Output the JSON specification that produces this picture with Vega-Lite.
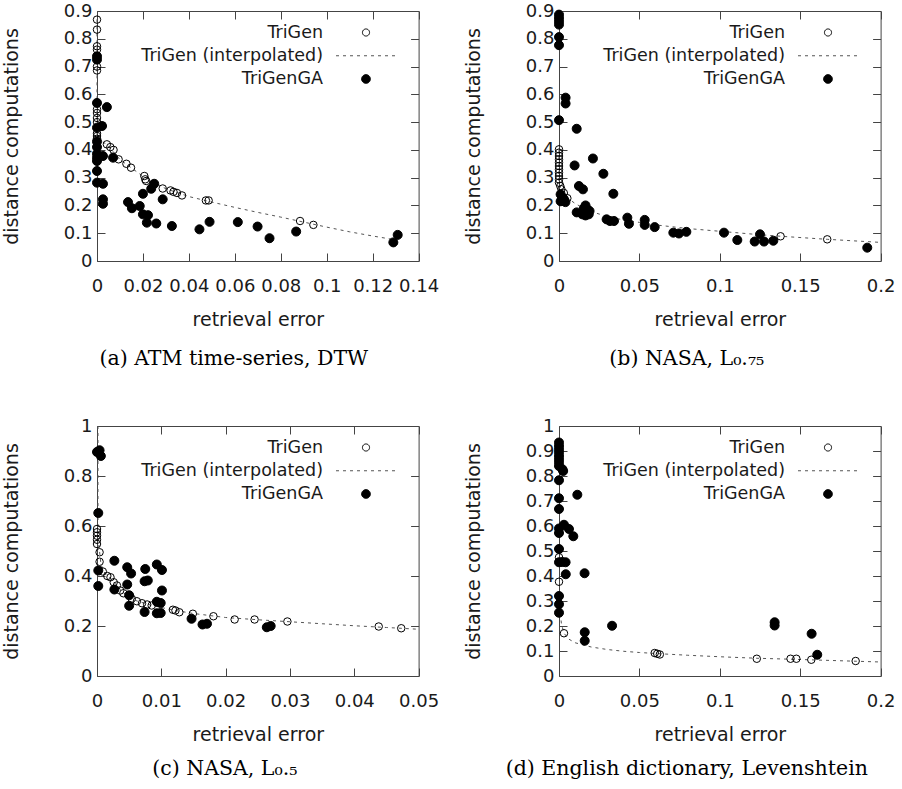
{
"$schema": "https://vega.github.io/schema/vega-lite/v6.json",
"padding": {"left": 1, "top": 1, "right": 5, "bottom": 5},
"background": "white",
"config": {
  "view": {"stroke": "#444", "strokeWidth": 1},
  "font": "DejaVu Sans",
  "axis": {"grid": false, "domain": false, "tickSize": -8, "tickColor": "#444", "tickWidth": 1, "labelFont": "DejaVu Sans", "labelFontSize": 18, "labelColor": "#1a1a1a", "titleFont": "DejaVu Sans", "titleFontSize": 19, "titleFontWeight": "normal", "titleColor": "#1a1a1a", "labelFlush": false, "labelOverlap": false},
  "axisBottom": {"labelPadding": 24, "titlePadding": 15},
  "axisLeft": {"labelPadding": 13, "titlePadding": 42},
  "legend": {"orient": "none", "legendX": 0, "legendY": 12.5, "title": null, "padding": 0, "labelFont": "DejaVu Sans", "labelFontSize": 17.5, "labelColor": "#1a1a1a", "labelAlign": "right", "labelOffset": -52, "labelLimit": 400, "symbolOffset": 260, "rowPadding": 5.25, "symbolSize": 272.25, "symbolStrokeWidth": 1, "symbolOpacity": 1},
  "title": {"font": "DejaVu Serif", "fontSize": 20.5, "fontWeight": "normal", "color": "#000", "orient": "bottom", "offset": 20, "frame": "group", "anchor": "middle"}
},
"resolve": {"scale": {"fill": "independent", "color": "independent", "size": "independent", "shape": "independent", "stroke": "independent", "strokeDash": "independent"}, "legend": {"fill": "independent", "shape": "independent", "stroke": "independent", "strokeDash": "independent"}},
"columns": 2,
"spacing": {"row": 165, "column": 140},
"bounds": "flush",
"datasets": {
  "a_pts": [
    {"series": "TriGenGA", "x": 0, "y": 0.737}, {"series": "TriGenGA", "x": 0, "y": 0.725}, {"series": "TriGenGA", "x": 0, "y": 0.569}, {"series": "TriGenGA", "x": 0.0043, "y": 0.554}, {"series": "TriGenGA", "x": 0.0022, "y": 0.486}, {"series": "TriGenGA", "x": 0, "y": 0.48}, {"series": "TriGenGA", "x": 0, "y": 0.43}, {"series": "TriGenGA", "x": 0, "y": 0.41}, {"series": "TriGenGA", "x": 0, "y": 0.386}, {"series": "TriGenGA", "x": 0, "y": 0.372}, {"series": "TriGenGA", "x": 0, "y": 0.36}, {"series": "TriGenGA", "x": 0.0026, "y": 0.378}, {"series": "TriGenGA", "x": 0.007, "y": 0.372}, {"series": "TriGenGA", "x": 0, "y": 0.324}, {"series": "TriGenGA", "x": 0, "y": 0.282}, {"series": "TriGenGA", "x": 0.0026, "y": 0.278}, {"series": "TriGenGA", "x": 0.0026, "y": 0.222}, {"series": "TriGenGA", "x": 0.0026, "y": 0.206}, {"series": "TriGenGA", "x": 0.0135, "y": 0.212}, {"series": "TriGenGA", "x": 0.0152, "y": 0.19}, {"series": "TriGenGA", "x": 0.0186, "y": 0.198}, {"series": "TriGenGA", "x": 0.02, "y": 0.242}, {"series": "TriGenGA", "x": 0.02, "y": 0.168}, {"series": "TriGenGA", "x": 0.0222, "y": 0.165}, {"series": "TriGenGA", "x": 0.0217, "y": 0.138}, {"series": "TriGenGA", "x": 0.0236, "y": 0.26}, {"series": "TriGenGA", "x": 0.0249, "y": 0.278}, {"series": "TriGenGA", "x": 0.0258, "y": 0.135}, {"series": "TriGenGA", "x": 0.0286, "y": 0.222}, {"series": "TriGenGA", "x": 0.0326, "y": 0.126}, {"series": "TriGenGA", "x": 0.0446, "y": 0.114}, {"series": "TriGenGA", "x": 0.049, "y": 0.141}, {"series": "TriGenGA", "x": 0.0613, "y": 0.14}, {"series": "TriGenGA", "x": 0.0699, "y": 0.124}, {"series": "TriGenGA", "x": 0.0751, "y": 0.082}, {"series": "TriGenGA", "x": 0.0867, "y": 0.106}, {"series": "TriGenGA", "x": 0.129, "y": 0.067}, {"series": "TriGenGA", "x": 0.1309, "y": 0.094},
    {"series": "TriGen", "x": 0, "y": 0.869}, {"series": "TriGen", "x": 0, "y": 0.833}, {"series": "TriGen", "x": 0, "y": 0.773}, {"series": "TriGen", "x": 0, "y": 0.761}, {"series": "TriGen", "x": 0, "y": 0.7}, {"series": "TriGen", "x": 0, "y": 0.686}, {"series": "TriGen", "x": 0, "y": 0.546}, {"series": "TriGen", "x": 0, "y": 0.533}, {"series": "TriGen", "x": 0, "y": 0.515}, {"series": "TriGen", "x": 0, "y": 0.5}, {"series": "TriGen", "x": 0, "y": 0.46}, {"series": "TriGen", "x": 0, "y": 0.45}, {"series": "TriGen", "x": 0, "y": 0.44}, {"series": "TriGen", "x": 0.0043, "y": 0.42}, {"series": "TriGen", "x": 0.0058, "y": 0.41}, {"series": "TriGen", "x": 0.0072, "y": 0.4}, {"series": "TriGen", "x": 0.0094, "y": 0.366}, {"series": "TriGen", "x": 0.0128, "y": 0.35}, {"series": "TriGen", "x": 0.0148, "y": 0.336}, {"series": "TriGen", "x": 0.0206, "y": 0.306}, {"series": "TriGen", "x": 0.021, "y": 0.294}, {"series": "TriGen", "x": 0.0214, "y": 0.288}, {"series": "TriGen", "x": 0.0286, "y": 0.261}, {"series": "TriGen", "x": 0.032, "y": 0.254}, {"series": "TriGen", "x": 0.0333, "y": 0.249}, {"series": "TriGen", "x": 0.0348, "y": 0.245}, {"series": "TriGen", "x": 0.037, "y": 0.236}, {"series": "TriGen", "x": 0.0474, "y": 0.218}, {"series": "TriGen", "x": 0.0486, "y": 0.218}, {"series": "TriGen", "x": 0.0884, "y": 0.144}, {"series": "TriGen", "x": 0.0942, "y": 0.13}
  ],
  "a_line": [
    {"x": 0, "y": 0.87}, {"x": 0, "y": 0.44}, {"x": 0.0043, "y": 0.42}, {"x": 0.01, "y": 0.365}, {"x": 0.015, "y": 0.335}, {"x": 0.02, "y": 0.305}, {"x": 0.03, "y": 0.26}, {"x": 0.04, "y": 0.232}, {"x": 0.05, "y": 0.212}, {"x": 0.06, "y": 0.193}, {"x": 0.07, "y": 0.175}, {"x": 0.08, "y": 0.158}, {"x": 0.09, "y": 0.14}, {"x": 0.1, "y": 0.122}, {"x": 0.11, "y": 0.105}, {"x": 0.12, "y": 0.09}, {"x": 0.13, "y": 0.076}
  ],
  "b_pts": [
    {"series": "TriGenGA", "x": 0, "y": 0.887}, {"series": "TriGenGA", "x": 0, "y": 0.875}, {"series": "TriGenGA", "x": 0, "y": 0.863}, {"series": "TriGenGA", "x": 0, "y": 0.851}, {"series": "TriGenGA", "x": 0, "y": 0.806}, {"series": "TriGenGA", "x": 0, "y": 0.777}, {"series": "TriGenGA", "x": 0.0041, "y": 0.588}, {"series": "TriGenGA", "x": 0.0041, "y": 0.567}, {"series": "TriGenGA", "x": 0, "y": 0.507}, {"series": "TriGenGA", "x": 0.011, "y": 0.476}, {"series": "TriGenGA", "x": 0.0097, "y": 0.344}, {"series": "TriGenGA", "x": 0.0211, "y": 0.369}, {"series": "TriGenGA", "x": 0.0124, "y": 0.27}, {"series": "TriGenGA", "x": 0.0149, "y": 0.258}, {"series": "TriGenGA", "x": 0.0276, "y": 0.314}, {"series": "TriGenGA", "x": 0.0338, "y": 0.242}, {"series": "TriGenGA", "x": 0.001, "y": 0.24}, {"series": "TriGenGA", "x": 0.0031, "y": 0.222}, {"series": "TriGenGA", "x": 0.002, "y": 0.23}, {"series": "TriGenGA", "x": 0.004, "y": 0.212}, {"series": "TriGenGA", "x": 0.001, "y": 0.215}, {"series": "TriGenGA", "x": 0.011, "y": 0.175}, {"series": "TriGenGA", "x": 0.0165, "y": 0.2}, {"series": "TriGenGA", "x": 0.0155, "y": 0.19}, {"series": "TriGenGA", "x": 0.0178, "y": 0.185}, {"series": "TriGenGA", "x": 0.0145, "y": 0.168}, {"series": "TriGenGA", "x": 0.0165, "y": 0.164}, {"series": "TriGenGA", "x": 0.0185, "y": 0.168}, {"series": "TriGenGA", "x": 0.019, "y": 0.18}, {"series": "TriGenGA", "x": 0.0296, "y": 0.15}, {"series": "TriGenGA", "x": 0.0317, "y": 0.144}, {"series": "TriGenGA", "x": 0.0342, "y": 0.144}, {"series": "TriGenGA", "x": 0.0425, "y": 0.156}, {"series": "TriGenGA", "x": 0.0435, "y": 0.134}, {"series": "TriGenGA", "x": 0.0533, "y": 0.148}, {"series": "TriGenGA", "x": 0.0533, "y": 0.13}, {"series": "TriGenGA", "x": 0.0595, "y": 0.122}, {"series": "TriGenGA", "x": 0.0711, "y": 0.102}, {"series": "TriGenGA", "x": 0.0746, "y": 0.099}, {"series": "TriGenGA", "x": 0.0792, "y": 0.105}, {"series": "TriGenGA", "x": 0.1026, "y": 0.102}, {"series": "TriGenGA", "x": 0.1109, "y": 0.0755}, {"series": "TriGenGA", "x": 0.1217, "y": 0.07}, {"series": "TriGenGA", "x": 0.125, "y": 0.096}, {"series": "TriGenGA", "x": 0.1275, "y": 0.07}, {"series": "TriGenGA", "x": 0.1333, "y": 0.073}, {"series": "TriGenGA", "x": 0.1917, "y": 0.048},
    {"series": "TriGen", "x": 0, "y": 0.402}, {"series": "TriGen", "x": 0, "y": 0.39}, {"series": "TriGen", "x": 0, "y": 0.378}, {"series": "TriGen", "x": 0, "y": 0.366}, {"series": "TriGen", "x": 0, "y": 0.354}, {"series": "TriGen", "x": 0, "y": 0.342}, {"series": "TriGen", "x": 0, "y": 0.33}, {"series": "TriGen", "x": 0, "y": 0.318}, {"series": "TriGen", "x": 0, "y": 0.306}, {"series": "TriGen", "x": 0, "y": 0.294}, {"series": "TriGen", "x": 0, "y": 0.282}, {"series": "TriGen", "x": 0.0008, "y": 0.27}, {"series": "TriGen", "x": 0.0015, "y": 0.258}, {"series": "TriGen", "x": 0.003, "y": 0.245}, {"series": "TriGen", "x": 0.0052, "y": 0.226}, {"series": "TriGen", "x": 0.1378, "y": 0.089}, {"series": "TriGen", "x": 0.1668, "y": 0.078}
  ],
  "b_line": [
    {"x": 0, "y": 0.4}, {"x": 0, "y": 0.28}, {"x": 0.001, "y": 0.262}, {"x": 0.003, "y": 0.242}, {"x": 0.006, "y": 0.224}, {"x": 0.01, "y": 0.207}, {"x": 0.015, "y": 0.191}, {"x": 0.02, "y": 0.178}, {"x": 0.03, "y": 0.16}, {"x": 0.04, "y": 0.148}, {"x": 0.05, "y": 0.139}, {"x": 0.06, "y": 0.13}, {"x": 0.08, "y": 0.117}, {"x": 0.1, "y": 0.107}, {"x": 0.12, "y": 0.097}, {"x": 0.138, "y": 0.089}, {"x": 0.167, "y": 0.078}, {"x": 0.2, "y": 0.067}
  ],
  "c_pts": [
    {"series": "TriGenGA", "x": 0, "y": 0.896}, {"series": "TriGenGA", "x": 0.0004, "y": 0.903}, {"series": "TriGenGA", "x": 0.0006, "y": 0.88}, {"series": "TriGenGA", "x": 0.0002, "y": 0.652}, {"series": "TriGenGA", "x": 0.0002, "y": 0.422}, {"series": "TriGenGA", "x": 0.0002, "y": 0.36}, {"series": "TriGenGA", "x": 0.0027, "y": 0.461}, {"series": "TriGenGA", "x": 0.0047, "y": 0.435}, {"series": "TriGenGA", "x": 0.0053, "y": 0.41}, {"series": "TriGenGA", "x": 0.0047, "y": 0.366}, {"series": "TriGenGA", "x": 0.0075, "y": 0.428}, {"series": "TriGenGA", "x": 0.0074, "y": 0.379}, {"series": "TriGenGA", "x": 0.0079, "y": 0.382}, {"series": "TriGenGA", "x": 0.0093, "y": 0.446}, {"series": "TriGenGA", "x": 0.0101, "y": 0.424}, {"series": "TriGenGA", "x": 0.0101, "y": 0.342}, {"series": "TriGenGA", "x": 0.0027, "y": 0.346}, {"series": "TriGenGA", "x": 0.0050, "y": 0.323}, {"series": "TriGenGA", "x": 0.0050, "y": 0.281}, {"series": "TriGenGA", "x": 0.0074, "y": 0.256}, {"series": "TriGenGA", "x": 0.0093, "y": 0.251}, {"series": "TriGenGA", "x": 0.0099, "y": 0.252}, {"series": "TriGenGA", "x": 0.0093, "y": 0.297}, {"series": "TriGenGA", "x": 0.0099, "y": 0.292}, {"series": "TriGenGA", "x": 0.0147, "y": 0.229}, {"series": "TriGenGA", "x": 0.0164, "y": 0.206}, {"series": "TriGenGA", "x": 0.0171, "y": 0.209}, {"series": "TriGenGA", "x": 0.0264, "y": 0.195}, {"series": "TriGenGA", "x": 0.027, "y": 0.2},
    {"series": "TriGen", "x": 0, "y": 0.588}, {"series": "TriGen", "x": 0, "y": 0.575}, {"series": "TriGen", "x": 0, "y": 0.561}, {"series": "TriGen", "x": 0, "y": 0.545}, {"series": "TriGen", "x": 0, "y": 0.528}, {"series": "TriGen", "x": 0.0004, "y": 0.495}, {"series": "TriGen", "x": 0.0004, "y": 0.457}, {"series": "TriGen", "x": 0.0009, "y": 0.418}, {"series": "TriGen", "x": 0.0016, "y": 0.4}, {"series": "TriGen", "x": 0.0021, "y": 0.395}, {"series": "TriGen", "x": 0.0026, "y": 0.375}, {"series": "TriGen", "x": 0.0031, "y": 0.362}, {"series": "TriGen", "x": 0.0036, "y": 0.342}, {"series": "TriGen", "x": 0.0041, "y": 0.331}, {"series": "TriGen", "x": 0.0054, "y": 0.309}, {"series": "TriGen", "x": 0.0062, "y": 0.299}, {"series": "TriGen", "x": 0.007, "y": 0.291}, {"series": "TriGen", "x": 0.0078, "y": 0.286}, {"series": "TriGen", "x": 0.0085, "y": 0.282}, {"series": "TriGen", "x": 0.0118, "y": 0.265}, {"series": "TriGen", "x": 0.0122, "y": 0.262}, {"series": "TriGen", "x": 0.0128, "y": 0.255}, {"series": "TriGen", "x": 0.0149, "y": 0.249}, {"series": "TriGen", "x": 0.0181, "y": 0.239}, {"series": "TriGen", "x": 0.0214, "y": 0.226}, {"series": "TriGen", "x": 0.0245, "y": 0.226}, {"series": "TriGen", "x": 0.0296, "y": 0.218}, {"series": "TriGen", "x": 0.0438, "y": 0.198}, {"series": "TriGen", "x": 0.0473, "y": 0.191}
  ],
  "c_line": [
    {"x": 0.00015, "y": 1.0}, {"x": 0.00015, "y": 0.6}, {"x": 0.0003, "y": 0.52}, {"x": 0.0006, "y": 0.45}, {"x": 0.001, "y": 0.418}, {"x": 0.002, "y": 0.393}, {"x": 0.003, "y": 0.365}, {"x": 0.004, "y": 0.335}, {"x": 0.006, "y": 0.302}, {"x": 0.008, "y": 0.286}, {"x": 0.01, "y": 0.274}, {"x": 0.012, "y": 0.263}, {"x": 0.015, "y": 0.25}, {"x": 0.02, "y": 0.234}, {"x": 0.025, "y": 0.225}, {"x": 0.03, "y": 0.217}, {"x": 0.035, "y": 0.209}, {"x": 0.04, "y": 0.201}, {"x": 0.045, "y": 0.194}, {"x": 0.05, "y": 0.187}
  ],
  "d_pts": [
    {"series": "TriGenGA", "x": 0, "y": 0.934}, {"series": "TriGenGA", "x": 0, "y": 0.92}, {"series": "TriGenGA", "x": 0, "y": 0.907}, {"series": "TriGenGA", "x": 0, "y": 0.894}, {"series": "TriGenGA", "x": 0, "y": 0.88}, {"series": "TriGenGA", "x": 0, "y": 0.867}, {"series": "TriGenGA", "x": 0, "y": 0.854}, {"series": "TriGenGA", "x": 0, "y": 0.84}, {"series": "TriGenGA", "x": 0.0021, "y": 0.827}, {"series": "TriGenGA", "x": 0.0026, "y": 0.82}, {"series": "TriGenGA", "x": 0, "y": 0.783}, {"series": "TriGenGA", "x": 0, "y": 0.711}, {"series": "TriGenGA", "x": 0, "y": 0.668}, {"series": "TriGenGA", "x": 0, "y": 0.59}, {"series": "TriGenGA", "x": 0, "y": 0.572}, {"series": "TriGenGA", "x": 0.0031, "y": 0.605}, {"series": "TriGenGA", "x": 0.0062, "y": 0.588}, {"series": "TriGenGA", "x": 0.0089, "y": 0.559}, {"series": "TriGenGA", "x": 0.0114, "y": 0.725}, {"series": "TriGenGA", "x": 0, "y": 0.508}, {"series": "TriGenGA", "x": 0, "y": 0.455}, {"series": "TriGenGA", "x": 0.002, "y": 0.456}, {"series": "TriGenGA", "x": 0.0041, "y": 0.455}, {"series": "TriGenGA", "x": 0.0042, "y": 0.407}, {"series": "TriGenGA", "x": 0.0159, "y": 0.411}, {"series": "TriGenGA", "x": 0, "y": 0.32}, {"series": "TriGenGA", "x": 0, "y": 0.287}, {"series": "TriGenGA", "x": 0, "y": 0.253}, {"series": "TriGenGA", "x": 0.016, "y": 0.175}, {"series": "TriGenGA", "x": 0.016, "y": 0.141}, {"series": "TriGenGA", "x": 0.033, "y": 0.201}, {"series": "TriGenGA", "x": 0.1341, "y": 0.215}, {"series": "TriGenGA", "x": 0.1341, "y": 0.202}, {"series": "TriGenGA", "x": 0.1571, "y": 0.169}, {"series": "TriGenGA", "x": 0.1606, "y": 0.085},
    {"series": "TriGen", "x": 0, "y": 0.475}, {"series": "TriGen", "x": 0, "y": 0.377}, {"series": "TriGen", "x": 0.0031, "y": 0.171}, {"series": "TriGen", "x": 0.0595, "y": 0.092}, {"series": "TriGen", "x": 0.0611, "y": 0.089}, {"series": "TriGen", "x": 0.0627, "y": 0.086}, {"series": "TriGen", "x": 0.123, "y": 0.069}, {"series": "TriGen", "x": 0.144, "y": 0.069}, {"series": "TriGen", "x": 0.1476, "y": 0.069}, {"series": "TriGen", "x": 0.1569, "y": 0.065}, {"series": "TriGen", "x": 0.1845, "y": 0.06}
  ],
  "d_line": [
    {"x": 0.0008, "y": 0.25}, {"x": 0.0015, "y": 0.21}, {"x": 0.003, "y": 0.172}, {"x": 0.006, "y": 0.148}, {"x": 0.01, "y": 0.133}, {"x": 0.02, "y": 0.116}, {"x": 0.03, "y": 0.106}, {"x": 0.04, "y": 0.099}, {"x": 0.05, "y": 0.094}, {"x": 0.06, "y": 0.09}, {"x": 0.08, "y": 0.083}, {"x": 0.1, "y": 0.077}, {"x": 0.123, "y": 0.071}, {"x": 0.145, "y": 0.067}, {"x": 0.16, "y": 0.064}, {"x": 0.185, "y": 0.059}, {"x": 0.2, "y": 0.056}
  ],
  "legend_rows": []
},
"concat": [
  {
    "width": 321.6, "height": 250,
    "title": {"text": "(a) ATM time-series, DTW", "dx": -24},
    "resolve": {"axis": {"x": "independent", "y": "independent"}},
    "layer": [
      {"data": {"name": "a_line"}, "mark": {"type": "line", "stroke": "#555", "strokeWidth": 1, "strokeDash": [3, 4]},
       "encoding": {
         "x": {"field": "x", "type": "quantitative", "scale": {"domain": [0, 0.14], "nice": false, "zero": false}, "axis": {"orient": "top", "labels": false, "title": null, "values": [0, 0.02, 0.04, 0.06, 0.08, 0.1, 0.12, 0.14]}},
         "y": {"field": "y", "type": "quantitative", "scale": {"domain": [0, 0.9], "nice": false, "zero": false}, "axis": {"orient": "right", "labels": false, "title": null, "values": [0, 0.1, 0.2, 0.3, 0.4, 0.5, 0.6, 0.7, 0.8, 0.9]}}
       }},
      {"data": {"name": "a_pts"}, "mark": {"type": "circle", "opacity": 1, "stroke": "#000", "strokeWidth": 1},
       "encoding": {
         "x": {"field": "x", "type": "quantitative", "scale": {"domain": [0, 0.14], "nice": false, "zero": false}, "axis": {"orient": "bottom", "title": "retrieval error", "format": "~g", "values": [0, 0.02, 0.04, 0.06, 0.08, 0.1, 0.12, 0.14]}},
         "y": {"field": "y", "type": "quantitative", "scale": {"domain": [0, 0.9], "nice": false, "zero": false}, "axis": {"orient": "left", "title": "distance computations", "format": "~g", "values": [0, 0.1, 0.2, 0.3, 0.4, 0.5, 0.6, 0.7, 0.8, 0.9]}},
         "size": {"field": "series", "type": "nominal", "scale": {"domain": ["TriGen", "TriGenGA"], "range": [56, 81]}, "legend": null},
         "color": {"field": "series", "type": "nominal", "scale": {"domain": ["TriGen", "TriGenGA"], "range": ["transparent", "#000"]}, "legend": null}
       }},
      {"data": {"name": "legend_rows"}, "mark": {"type": "point", "opacity": 1, "filled": false},
       "encoding": {
         "shape": {"field": "series", "type": "nominal", "scale": {"domain": ["TriGen", "TriGen (interpolated)", "TriGenGA"], "range": ["M -0.43 0 A 0.43 0.43 0 1 0 0.43 0 A 0.43 0.43 0 1 0 -0.43 0 Z", "M -3.636 0 L 3.636 0", "M -0.53 0 A 0.53 0.53 0 1 0 0.53 0 A 0.53 0.53 0 1 0 -0.53 0 Z"]}},
         "fill": {"field": "series", "type": "nominal", "scale": {"domain": ["TriGen", "TriGen (interpolated)", "TriGenGA"], "range": ["transparent", "transparent", "#000"]}},
         "stroke": {"field": "series", "type": "nominal", "scale": {"domain": ["TriGen", "TriGen (interpolated)", "TriGenGA"], "range": ["#000", "#555", "#000"]}},
         "strokeDash": {"field": "series", "type": "nominal", "scale": {"domain": ["TriGen", "TriGen (interpolated)", "TriGenGA"], "range": [[1, 0], [3, 4], [1, 0]]}}
       }}
    ]
  },
  {
    "width": 321.6, "height": 250,
    "title": {"text": "(b) NASA, L₀.₇₅", "dx": -33},
    "resolve": {"axis": {"x": "independent", "y": "independent"}},
    "layer": [
      {"data": {"name": "b_line"}, "mark": {"type": "line", "stroke": "#555", "strokeWidth": 1, "strokeDash": [3, 4]},
       "encoding": {
         "x": {"field": "x", "type": "quantitative", "scale": {"domain": [0, 0.2], "nice": false, "zero": false}, "axis": {"orient": "top", "labels": false, "title": null, "values": [0, 0.05, 0.1, 0.15, 0.2]}},
         "y": {"field": "y", "type": "quantitative", "scale": {"domain": [0, 0.9], "nice": false, "zero": false}, "axis": {"orient": "right", "labels": false, "title": null, "values": [0, 0.1, 0.2, 0.3, 0.4, 0.5, 0.6, 0.7, 0.8, 0.9]}}
       }},
      {"data": {"name": "b_pts"}, "mark": {"type": "circle", "opacity": 1, "stroke": "#000", "strokeWidth": 1},
       "encoding": {
         "x": {"field": "x", "type": "quantitative", "scale": {"domain": [0, 0.2], "nice": false, "zero": false}, "axis": {"orient": "bottom", "title": "retrieval error", "format": "~g", "values": [0, 0.05, 0.1, 0.15, 0.2]}},
         "y": {"field": "y", "type": "quantitative", "scale": {"domain": [0, 0.9], "nice": false, "zero": false}, "axis": {"orient": "left", "title": "distance computations", "format": "~g", "values": [0, 0.1, 0.2, 0.3, 0.4, 0.5, 0.6, 0.7, 0.8, 0.9]}},
         "size": {"field": "series", "type": "nominal", "scale": {"domain": ["TriGen", "TriGenGA"], "range": [56, 81]}, "legend": null},
         "color": {"field": "series", "type": "nominal", "scale": {"domain": ["TriGen", "TriGenGA"], "range": ["transparent", "#000"]}, "legend": null}
       }},
      {"data": {"name": "legend_rows"}, "mark": {"type": "point", "opacity": 1, "filled": false},
       "encoding": {
         "shape": {"field": "series", "type": "nominal", "scale": {"domain": ["TriGen", "TriGen (interpolated)", "TriGenGA"], "range": ["M -0.43 0 A 0.43 0.43 0 1 0 0.43 0 A 0.43 0.43 0 1 0 -0.43 0 Z", "M -3.636 0 L 3.636 0", "M -0.53 0 A 0.53 0.53 0 1 0 0.53 0 A 0.53 0.53 0 1 0 -0.53 0 Z"]}},
         "fill": {"field": "series", "type": "nominal", "scale": {"domain": ["TriGen", "TriGen (interpolated)", "TriGenGA"], "range": ["transparent", "transparent", "#000"]}},
         "stroke": {"field": "series", "type": "nominal", "scale": {"domain": ["TriGen", "TriGen (interpolated)", "TriGenGA"], "range": ["#000", "#555", "#000"]}},
         "strokeDash": {"field": "series", "type": "nominal", "scale": {"domain": ["TriGen", "TriGen (interpolated)", "TriGenGA"], "range": [[1, 0], [3, 4], [1, 0]]}}
       }}
    ]
  },
  {
    "width": 321.6, "height": 250,
    "title": {"text": "(c) NASA, L₀.₅", "dx": -33, "offset": 15},
    "resolve": {"axis": {"x": "independent", "y": "independent"}},
    "layer": [
      {"data": {"name": "c_line"}, "mark": {"type": "line", "stroke": "#555", "strokeWidth": 1, "strokeDash": [3, 4]},
       "encoding": {
         "x": {"field": "x", "type": "quantitative", "scale": {"domain": [0, 0.05], "nice": false, "zero": false}, "axis": {"orient": "top", "labels": false, "title": null, "values": [0, 0.01, 0.02, 0.03, 0.04, 0.05]}},
         "y": {"field": "y", "type": "quantitative", "scale": {"domain": [0, 1], "nice": false, "zero": false}, "axis": {"orient": "right", "labels": false, "title": null, "values": [0, 0.2, 0.4, 0.6, 0.8, 1]}}
       }},
      {"data": {"name": "c_pts"}, "mark": {"type": "circle", "opacity": 1, "stroke": "#000", "strokeWidth": 1},
       "encoding": {
         "x": {"field": "x", "type": "quantitative", "scale": {"domain": [0, 0.05], "nice": false, "zero": false}, "axis": {"orient": "bottom", "title": "retrieval error", "format": "~g", "values": [0, 0.01, 0.02, 0.03, 0.04, 0.05]}},
         "y": {"field": "y", "type": "quantitative", "scale": {"domain": [0, 1], "nice": false, "zero": false}, "axis": {"orient": "left", "title": "distance computations", "format": "~g", "values": [0, 0.2, 0.4, 0.6, 0.8, 1]}},
         "size": {"field": "series", "type": "nominal", "scale": {"domain": ["TriGen", "TriGenGA"], "range": [56, 81]}, "legend": null},
         "color": {"field": "series", "type": "nominal", "scale": {"domain": ["TriGen", "TriGenGA"], "range": ["transparent", "#000"]}, "legend": null}
       }},
      {"data": {"name": "legend_rows"}, "mark": {"type": "point", "opacity": 1, "filled": false},
       "encoding": {
         "shape": {"field": "series", "type": "nominal", "scale": {"domain": ["TriGen", "TriGen (interpolated)", "TriGenGA"], "range": ["M -0.43 0 A 0.43 0.43 0 1 0 0.43 0 A 0.43 0.43 0 1 0 -0.43 0 Z", "M -3.636 0 L 3.636 0", "M -0.53 0 A 0.53 0.53 0 1 0 0.53 0 A 0.53 0.53 0 1 0 -0.53 0 Z"]}},
         "fill": {"field": "series", "type": "nominal", "scale": {"domain": ["TriGen", "TriGen (interpolated)", "TriGenGA"], "range": ["transparent", "transparent", "#000"]}},
         "stroke": {"field": "series", "type": "nominal", "scale": {"domain": ["TriGen", "TriGen (interpolated)", "TriGenGA"], "range": ["#000", "#555", "#000"]}},
         "strokeDash": {"field": "series", "type": "nominal", "scale": {"domain": ["TriGen", "TriGen (interpolated)", "TriGenGA"], "range": [[1, 0], [3, 4], [1, 0]]}}
       }}
    ]
  },
  {
    "width": 321.6, "height": 250,
    "title": {"text": "(d) English dictionary, Levenshtein", "dx": -33, "offset": 15},
    "resolve": {"axis": {"x": "independent", "y": "independent"}},
    "layer": [
      {"data": {"name": "d_line"}, "mark": {"type": "line", "stroke": "#555", "strokeWidth": 1, "strokeDash": [3, 4]},
       "encoding": {
         "x": {"field": "x", "type": "quantitative", "scale": {"domain": [0, 0.2], "nice": false, "zero": false}, "axis": {"orient": "top", "labels": false, "title": null, "values": [0, 0.05, 0.1, 0.15, 0.2]}},
         "y": {"field": "y", "type": "quantitative", "scale": {"domain": [0, 1], "nice": false, "zero": false}, "axis": {"orient": "right", "labels": false, "title": null, "values": [0, 0.1, 0.2, 0.3, 0.4, 0.5, 0.6, 0.7, 0.8, 0.9, 1]}}
       }},
      {"data": {"name": "d_pts"}, "mark": {"type": "circle", "opacity": 1, "stroke": "#000", "strokeWidth": 1},
       "encoding": {
         "x": {"field": "x", "type": "quantitative", "scale": {"domain": [0, 0.2], "nice": false, "zero": false}, "axis": {"orient": "bottom", "title": "retrieval error", "format": "~g", "values": [0, 0.05, 0.1, 0.15, 0.2]}},
         "y": {"field": "y", "type": "quantitative", "scale": {"domain": [0, 1], "nice": false, "zero": false}, "axis": {"orient": "left", "title": "distance computations", "format": "~g", "values": [0, 0.1, 0.2, 0.3, 0.4, 0.5, 0.6, 0.7, 0.8, 0.9, 1]}},
         "size": {"field": "series", "type": "nominal", "scale": {"domain": ["TriGen", "TriGenGA"], "range": [56, 81]}, "legend": null},
         "color": {"field": "series", "type": "nominal", "scale": {"domain": ["TriGen", "TriGenGA"], "range": ["transparent", "#000"]}, "legend": null}
       }},
      {"data": {"name": "legend_rows"}, "mark": {"type": "point", "opacity": 1, "filled": false},
       "encoding": {
         "shape": {"field": "series", "type": "nominal", "scale": {"domain": ["TriGen", "TriGen (interpolated)", "TriGenGA"], "range": ["M -0.43 0 A 0.43 0.43 0 1 0 0.43 0 A 0.43 0.43 0 1 0 -0.43 0 Z", "M -3.636 0 L 3.636 0", "M -0.53 0 A 0.53 0.53 0 1 0 0.53 0 A 0.53 0.53 0 1 0 -0.53 0 Z"]}},
         "fill": {"field": "series", "type": "nominal", "scale": {"domain": ["TriGen", "TriGen (interpolated)", "TriGenGA"], "range": ["transparent", "transparent", "#000"]}},
         "stroke": {"field": "series", "type": "nominal", "scale": {"domain": ["TriGen", "TriGen (interpolated)", "TriGenGA"], "range": ["#000", "#555", "#000"]}},
         "strokeDash": {"field": "series", "type": "nominal", "scale": {"domain": ["TriGen", "TriGen (interpolated)", "TriGenGA"], "range": [[1, 0], [3, 4], [1, 0]]}}
       }}
    ]
  }
]
}
